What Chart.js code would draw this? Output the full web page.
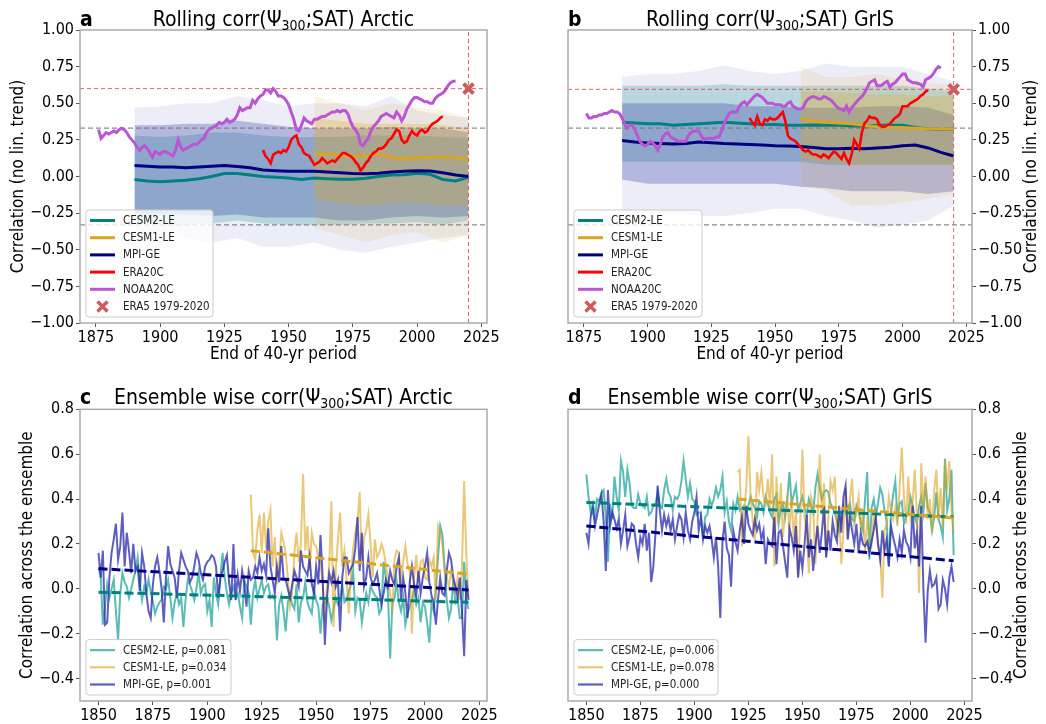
<!DOCTYPE html>
<html>
<head>
<meta charset="utf-8">
<script src="https://cdn.jsdelivr.net/npm/chart.js@4.4.1/dist/chart.umd.min.js"></script>
<style>
  body { margin: 0; background: #fff; }
  #wrap { position: relative; width: 1046px; height: 724px; overflow: hidden; font-family: 'DejaVu Sans Condensed', 'DejaVu Sans', sans-serif; color: #000; }
  canvas { position: absolute; }
  .title { position: absolute; font-size: 21px; line-height: 24px; white-space: nowrap; text-align: center; }
  .title sub { font-size: 14px; vertical-align: -4px; line-height: 0; }
  .letter { position: absolute; font-size: 21px; line-height: 24px; font-weight: bold; }
</style>
</head>
<body>
<div id="wrap">
  <canvas id="chartA" width="520" height="370" style="left:0;top:0"></canvas>
  <canvas id="chartB" width="526" height="370" style="left:520px;top:0"></canvas>
  <canvas id="chartC" width="520" height="354" style="left:0;top:370px"></canvas>
  <canvas id="chartD" width="526" height="354" style="left:520px;top:370px"></canvas>

  <div class="letter" style="left:80px;top:7px">a</div>
  <div class="title" style="left:80px;width:407px;top:7px">Rolling corr(Ψ<sub>300</sub>;SAT) Arctic</div>
  <div class="letter" style="left:568px;top:7px">b</div>
  <div class="title" style="left:568px;width:404px;top:7px">Rolling corr(Ψ<sub>300</sub>;SAT) GrIS</div>
  <div class="letter" style="left:80px;top:385px">c</div>
  <div class="title" style="left:80px;width:407px;top:385px">Ensemble wise corr(Ψ<sub>300</sub>;SAT) Arctic</div>
  <div class="letter" style="left:568px;top:385px">d</div>
  <div class="title" style="left:568px;width:404px;top:385px">Ensemble wise corr(Ψ<sub>300</sub>;SAT) GrIS</div>
</div>

<script>
// ---- axes / ticks
const xTicksRoll = [1875, 1900, 1925, 1950, 1975, 2000, 2025];
const yTicksRoll = [-1, -0.75, -0.5, -0.25, 0, 0.25, 0.5, 0.75, 1];
const xTicksEns = [1850, 1875, 1900, 1925, 1950, 1975, 2000, 2025];
const yTicksEns = [-0.4, -0.2, 0, 0.2, 0.4, 0.6, 0.8];
const xRollMin = 1868.8, xRollMax = 2027.2;
const xEnsMin = 1841.5, xEnsMax = 2028.5;

// ---- reference values
const era5Year = 2020;
const era5Arctic = 0.60;
const era5GrIS = 0.595;
const sigLevel = 0.33;

// ---- ensemble spread (rolling panels), read as envelopes every 10 yr
const bandYears = [1890, 1900, 1910, 1920, 1930, 1940, 1950, 1960, 1970, 1980, 1990, 2000, 2010, 2020];
const bandYearsCesm1 = [1960, 1970, 1980, 1990, 2000, 2010, 2020];

const outerHiA = [0.47, 0.48, 0.50, 0.50, 0.55, 0.52, 0.48, 0.50, 0.50, 0.48, 0.55, 0.45, 0.42, 0.40];
const outerLoA = [-0.38, -0.40, -0.42, -0.45, -0.42, -0.48, -0.48, -0.45, -0.50, -0.52, -0.48, -0.45, -0.42, -0.40];
const mpiCoreHiA = [0.35, 0.35, 0.36, 0.36, 0.38, 0.36, 0.34, 0.33, 0.33, 0.33, 0.34, 0.33, 0.33, 0.30];
const mpiCoreLoA = [-0.25, -0.26, -0.26, -0.27, -0.26, -0.28, -0.28, -0.28, -0.30, -0.30, -0.28, -0.27, -0.28, -0.27];
const cesm2CoreHiA = [0.28, 0.27, 0.28, 0.30, 0.30, 0.28, 0.27, 0.27, 0.27, 0.28, 0.28, 0.28, 0.27, 0.26];
const cesm2CoreLoA = [-0.32, -0.33, -0.33, -0.32, -0.30, -0.32, -0.33, -0.33, -0.33, -0.32, -0.32, -0.31, -0.33, -0.30];
const cesm1OuterHiA = [0.55, 0.50, 0.45, 0.50, 0.47, 0.45, 0.40];
const cesm1OuterLoA = [-0.35, -0.40, -0.45, -0.40, -0.38, -0.45, -0.40];
const cesm1CoreHiA = [0.40, 0.38, 0.36, 0.36, 0.36, 0.35, 0.33];
const cesm1CoreLoA = [-0.15, -0.18, -0.20, -0.18, -0.18, -0.20, -0.20];

const outerHiB = [0.68, 0.70, 0.70, 0.72, 0.76, 0.72, 0.70, 0.72, 0.77, 0.75, 0.75, 0.75, 0.70, 0.65];
const outerLoB = [-0.28, -0.25, -0.25, -0.27, -0.27, -0.25, -0.22, -0.22, -0.27, -0.30, -0.35, -0.33, -0.30, -0.20];
const mpiCoreHiB = [0.50, 0.50, 0.50, 0.50, 0.50, 0.48, 0.48, 0.47, 0.47, 0.47, 0.48, 0.48, 0.47, 0.42];
const mpiCoreLoB = [-0.02, -0.05, -0.05, -0.05, -0.05, -0.05, -0.05, -0.07, -0.08, -0.10, -0.10, -0.10, -0.12, -0.10];
const cesm2CoreHiB = [0.62, 0.62, 0.62, 0.62, 0.63, 0.62, 0.62, 0.62, 0.62, 0.62, 0.62, 0.62, 0.60, 0.58];
const cesm2CoreLoB = [0.10, 0.10, 0.10, 0.10, 0.10, 0.10, 0.10, 0.10, 0.08, 0.08, 0.08, 0.08, 0.08, 0.08];
const cesm1OuterHiB = [0.75, 0.68, 0.68, 0.70, 0.66, 0.64, 0.62];
const cesm1OuterLoB = [-0.05, -0.10, -0.20, -0.20, -0.18, -0.15, -0.12];
const cesm1CoreHiB = [0.58, 0.58, 0.57, 0.56, 0.56, 0.55, 0.55];
const cesm1CoreLoB = [0.12, 0.10, 0.08, 0.08, 0.08, 0.08, 0.08];

// ---- ensemble means (rolling)
const meanYears = [1890, 1895, 1900, 1905, 1910, 1915, 1920, 1925, 1930, 1935, 1940, 1945, 1950, 1955, 1960, 1965, 1970, 1975, 1980, 1985, 1990, 1995, 2000, 2005, 2010, 2015, 2020];
const cesm2MeanA = [-0.02, -0.03, -0.035, -0.03, -0.025, -0.015, 0.0, 0.02, 0.02, 0.01, 0.0, -0.005, -0.01, -0.02, -0.01, -0.015, -0.018, -0.018, -0.012, 0.0, 0.01, 0.012, 0.022, 0.015, -0.02, -0.03, -0.005];
const mpiMeanA = [0.075, 0.07, 0.065, 0.065, 0.06, 0.065, 0.07, 0.075, 0.068, 0.06, 0.045, 0.04, 0.035, 0.035, 0.035, 0.03, 0.025, 0.02, 0.018, 0.022, 0.03, 0.035, 0.04, 0.038, 0.025, 0.01, 0.0];
const cesm2MeanB = [0.37, 0.365, 0.36, 0.36, 0.35, 0.355, 0.36, 0.365, 0.37, 0.365, 0.36, 0.355, 0.355, 0.35, 0.35, 0.352, 0.35, 0.35, 0.345, 0.345, 0.35, 0.35, 0.35, 0.335, 0.325, 0.32, 0.325];
const mpiMeanB = [0.245, 0.235, 0.228, 0.225, 0.222, 0.225, 0.235, 0.23, 0.225, 0.222, 0.218, 0.215, 0.21, 0.208, 0.205, 0.198, 0.19, 0.19, 0.192, 0.19, 0.195, 0.20, 0.21, 0.215, 0.195, 0.165, 0.14];
const cesm1MeanYears = [1960, 1965, 1970, 1975, 1980, 1985, 1990, 1995, 2000, 2005, 2010, 2015, 2020];
const cesm1MeanA = [0.16, 0.15, 0.145, 0.135, 0.14, 0.155, 0.13, 0.12, 0.13, 0.13, 0.135, 0.13, 0.115];
const cesm1MeanB = [0.395, 0.38, 0.37, 0.365, 0.36, 0.35, 0.34, 0.335, 0.335, 0.33, 0.325, 0.325, 0.325];

// ---- reanalyses (rolling, yearly)
const era20cStart = 1940;
const era20cA = [0.18, 0.14, 0.12, 0.09, 0.15, 0.16, 0.17, 0.16, 0.18, 0.17, 0.20, 0.25, 0.27, 0.28, 0.22, 0.20, 0.16, 0.15, 0.14, 0.11,
  0.08, 0.09, 0.10, 0.125, 0.11, 0.09, 0.10, 0.11, 0.10, 0.12, 0.14, 0.16, 0.16, 0.15, 0.14, 0.125, 0.10, 0.08, 0.04, 0.06,
  0.09, 0.11, 0.14, 0.16, 0.17, 0.19, 0.19, 0.20, 0.22, 0.25, 0.26, 0.29, 0.32, 0.31, 0.25, 0.23, 0.24, 0.28, 0.31, 0.29,
  0.28, 0.31, 0.32, 0.30, 0.31, 0.34, 0.36, 0.37, 0.38, 0.40, 0.41];
const era20cB = [0.40, 0.37, 0.35, 0.41, 0.36, 0.35, 0.39, 0.38, 0.40, 0.39, 0.39, 0.40, 0.42, 0.44, 0.38, 0.28, 0.26, 0.25, 0.24, 0.22,
  0.20, 0.18, 0.17, 0.18, 0.16, 0.15, 0.15, 0.14, 0.13, 0.15, 0.14, 0.125, 0.15, 0.17, 0.16, 0.14, 0.12, 0.16, 0.12, 0.09,
  0.15, 0.25, 0.22, 0.19, 0.30, 0.36, 0.38, 0.41, 0.40, 0.40, 0.39, 0.35, 0.34, 0.34, 0.35, 0.36, 0.38, 0.40, 0.41, 0.43,
  0.48, 0.48, 0.48, 0.50, 0.51, 0.52, 0.53, 0.55, 0.56, 0.58, 0.59];
const noaaStart = 1876;
const noaaA = [0.32, 0.26, 0.28, 0.30, 0.29, 0.30, 0.31, 0.30, 0.32, 0.33, 0.32, 0.30, 0.27, 0.25, 0.23, 0.20, 0.18, 0.20, 0.21, 0.19,
  0.16, 0.13, 0.17, 0.16, 0.15, 0.17, 0.17, 0.16, 0.15, 0.14, 0.18, 0.25, 0.20, 0.18, 0.19, 0.20, 0.21, 0.22, 0.22, 0.23,
  0.25, 0.26, 0.30, 0.32, 0.33, 0.34, 0.35, 0.37, 0.36, 0.37, 0.39, 0.37, 0.38, 0.39, 0.42, 0.47, 0.45, 0.46, 0.47, 0.47,
  0.52, 0.50, 0.53, 0.55, 0.56, 0.59, 0.59, 0.57, 0.60, 0.58, 0.55, 0.55, 0.54, 0.52, 0.49, 0.44, 0.39, 0.32, 0.31, 0.35,
  0.40, 0.38, 0.37, 0.36, 0.39, 0.39, 0.40, 0.41, 0.41, 0.42, 0.43, 0.44, 0.44, 0.45, 0.44, 0.45, 0.45, 0.43, 0.38, 0.34,
  0.32, 0.29, 0.22, 0.21, 0.24, 0.26, 0.31, 0.34, 0.36, 0.38, 0.41, 0.42, 0.43, 0.42, 0.41, 0.40, 0.44, 0.42, 0.38, 0.41,
  0.46, 0.49, 0.52, 0.54, 0.54, 0.53, 0.52, 0.51, 0.51, 0.50, 0.50, 0.53, 0.55, 0.56, 0.57, 0.59, 0.62, 0.64, 0.65, 0.65];
const noaaB = [0.43, 0.40, 0.40, 0.41, 0.41, 0.42, 0.42, 0.43, 0.43, 0.44, 0.45, 0.44, 0.44, 0.43, 0.40, 0.36, 0.33, 0.35, 0.35, 0.32,
  0.28, 0.24, 0.22, 0.21, 0.22, 0.24, 0.23, 0.21, 0.18, 0.22, 0.27, 0.29, 0.30, 0.27, 0.26, 0.25, 0.24, 0.24, 0.24, 0.24,
  0.28, 0.30, 0.31, 0.31, 0.31, 0.28, 0.25, 0.26, 0.26, 0.26, 0.26, 0.27, 0.27, 0.31, 0.36, 0.40, 0.43, 0.44, 0.44, 0.44,
  0.48, 0.50, 0.51, 0.49, 0.51, 0.53, 0.55, 0.56, 0.55, 0.54, 0.52, 0.50, 0.50, 0.50, 0.49, 0.49, 0.49, 0.48, 0.48, 0.50,
  0.51, 0.48, 0.47, 0.46, 0.46, 0.47, 0.51, 0.53, 0.54, 0.545, 0.54, 0.53, 0.53, 0.545, 0.54, 0.53, 0.52, 0.50, 0.48, 0.465,
  0.46, 0.45, 0.48, 0.44, 0.47, 0.49, 0.51, 0.53, 0.545, 0.57, 0.60, 0.64, 0.65, 0.66, 0.62, 0.62, 0.625, 0.64, 0.65, 0.61,
  0.63, 0.64, 0.66, 0.68, 0.70, 0.70, 0.66, 0.65, 0.64, 0.64, 0.635, 0.63, 0.61, 0.66, 0.67, 0.68, 0.70, 0.73, 0.75, 0.74];

// ---- ensemble-wise correlation (yearly)
const ensStart = 1850;
const cesm1Start = 1920;
const cesm2EnsArctic = [0.09, 0.06, -0.16, -0.08, 0.02, -0.04, 0.00, 0.04, -0.10, -0.23,
  -0.02, 0.07, 0.03, 0.01, -0.04, 0.00, 0.04, 0.08, 0.14, 0.02,
  -0.05, 0.01, -0.02, 0.04, -0.01, -0.06, -0.11, -0.08, -0.06, -0.05,
  0.01, 0.00, 0.04, -0.04, -0.13, -0.06, -0.02, -0.07, -0.04, -0.17,
  -0.05, 0.04, 0.02, -0.01, -0.05, 0.00, 0.07, -0.02, 0.01, 0.02,
  -0.10, -0.05, -0.17, 0.05, -0.02, -0.07, 0.05, 0.16, 0.05, -0.02,
  -0.07, -0.02, 0.01, -0.04, -0.02, -0.08, -0.13, 0.04, 0.01, -0.02,
  -0.16, -0.02, 0.04, -0.04, 0.00, 0.04, -0.02, 0.01, 0.02, -0.04,
  -0.03, -0.05, -0.23, -0.07, -0.03, -0.10, -0.19, -0.06, -0.03, -0.07,
  -0.09, 0.02, -0.15, -0.06, -0.04, 0.03, -0.06, -0.09, -0.11, 0.00,
  -0.05, -0.08, -0.20, -0.07, -0.06, -0.04, -0.08, -0.14, -0.09, -0.04,
  -0.07, -0.05, 0.02, -0.06, -0.05, -0.01, 0.02, 0.08, -0.10, -0.04,
  -0.05, -0.15, -0.08, -0.02, -0.06, 0.01, -0.01, -0.03, -0.04, -0.11,
  -0.09, 0.12, 0.05, -0.02, -0.31, -0.07, -0.04, 0.03, -0.06, -0.10,
  -0.04, -0.16, -0.11, -0.08, -0.05, 0.00, -0.07, -0.04, -0.15, -0.06,
  -0.08, -0.15, -0.24, -0.06, -0.10, 0.00, 0.14, 0.28, 0.24, 0.10,
  -0.05, -0.13, -0.09, 0.04, -0.06, -0.04, -0.13, -0.13, 0.12, -0.05, -0.09];
const cesm1EnsArctic = [0.42, 0.16, 0.13, 0.26, 0.33, 0.16, 0.34, 0.18, 0.30, 0.35,
  0.10, 0.23, 0.02, 0.11, 0.25, 0.21, 0.16, 0.05, -0.08, -0.02,
  0.16, 0.25, 0.12, 0.20, 0.51, 0.17, 0.28, 0.08, 0.25, 0.20,
  0.19, 0.14, 0.11, 0.02, -0.14, 0.01, 0.10, 0.39, -0.17, 0.08,
  0.22, 0.34, 0.10, 0.17, 0.04, -0.11, 0.07, 0.18, 0.25, 0.30,
  0.43, 0.11, 0.23, 0.26, 0.33, 0.20, 0.05, 0.22, 0.14, 0.16,
  0.20, 0.17, 0.11, 0.05, -0.02, -0.10, 0.13, 0.17, 0.16, 0.04,
  0.12, 0.19, 0.11, 0.08, -0.20, 0.05, 0.15, 0.03, 0.12, 0.13,
  0.05, 0.04, 0.13, 0.10, 0.14, -0.05, 0.28, 0.25, 0.20, 0.08,
  0.05, 0.01, 0.08, 0.03, -0.01, 0.05, -0.05, 0.10, 0.48, 0.15, -0.04];
const mpiEnsArctic = [0.16, 0.05, 0.17, -0.16, -0.15, 0.05, 0.16, 0.22, 0.29, 0.13,
  0.19, 0.34, 0.10, 0.25, 0.17, 0.07, 0.20, 0.08, 0.10, -0.01,
  0.16, 0.10, -0.02, -0.10, -0.13, 0.02, 0.10, 0.14, 0.08, 0.00,
  -0.15, 0.05, 0.19, 0.11, 0.08, 0.05, -0.04, 0.08, 0.16, 0.13,
  0.10, 0.08, 0.03, 0.05, 0.10, 0.16, 0.13, 0.07, 0.04, 0.10,
  0.12, 0.13, 0.15, 0.14, 0.10, -0.04, 0.05, 0.08, 0.12, 0.15,
  0.03, -0.05, 0.20, -0.05, 0.06, -0.01, 0.08, 0.02, -0.08, 0.08,
  0.04, 0.05, 0.10, 0.07, 0.14, 0.08, 0.11, 0.06, 0.27, 0.10,
  0.04, -0.02, 0.10, 0.03, 0.19, 0.05, 0.04, 0.00, -0.04, 0.02,
  0.08, 0.05, 0.01, 0.17, 0.10, 0.08, 0.06, 0.14, 0.02, -0.02,
  0.10, 0.02, 0.24, 0.05, -0.25, -0.04, 0.07, 0.03, 0.08, 0.01,
  0.04, -0.19, 0.05, 0.14, 0.14, 0.07, 0.09, 0.11, 0.18, 0.32,
  0.08, 0.25, 0.01, 0.05, 0.14, 0.05, 0.02, 0.04, 0.07, 0.00,
  -0.07, -0.02, 0.04, 0.01, 0.08, 0.04, 0.02, 0.10, 0.14, -0.05,
  0.05, -0.02, -0.13, 0.03, 0.10, 0.02, -0.03, 0.08, -0.02, 0.05,
  0.10, 0.16, 0.03, -0.03, -0.06, -0.16, -0.05, 0.05, -0.02, -0.03,
  0.08, 0.16, 0.13, 0.05, 0.01, -0.04, 0.05, -0.10, -0.30, 0.04, -0.05];

const cesm2EnsGrIS = [0.51, 0.41, 0.34, 0.38, 0.32, 0.40, 0.39, 0.43, 0.44, 0.32,
  0.12, 0.38, 0.31, 0.50, 0.41, 0.35, 0.57, 0.52, 0.41, 0.53,
  0.47, 0.37, 0.36, 0.36, 0.42, 0.38, 0.37, 0.36, 0.41, 0.33,
  0.34, 0.37, 0.38, 0.43, 0.37, 0.36, 0.44, 0.49, 0.43, 0.41,
  0.35, 0.41, 0.40, 0.42, 0.48, 0.57, 0.49, 0.41, 0.47, 0.40,
  0.39, 0.33, 0.34, 0.34, 0.23, 0.32, 0.33, 0.40, 0.37, 0.40,
  0.45, 0.41, 0.44, 0.50, 0.34, 0.39, 0.30, 0.26, 0.38, 0.35,
  0.41, 0.35, 0.36, 0.37, 0.34, 0.37, 0.41, 0.38, 0.36, 0.32,
  0.39, 0.38, 0.34, 0.41, 0.38, 0.34, 0.32, 0.40, 0.42, 0.29,
  0.36, 0.38, 0.32, 0.40, 0.52, 0.38, 0.42, 0.46, 0.35, 0.38,
  0.41, 0.36, 0.33, 0.40, 0.37, 0.34, 0.45, 0.51, 0.45, 0.40,
  0.43, 0.44, 0.43, 0.38, 0.36, 0.34, 0.30, 0.26, 0.31, 0.37,
  0.34, 0.36, 0.38, 0.31, 0.30, 0.37, 0.34, 0.30, 0.26, 0.40,
  0.52, 0.13, 0.36, 0.40, 0.33, 0.38, 0.45, 0.42, 0.35, 0.30,
  0.10, 0.34, 0.42, 0.48, 0.32, 0.38, 0.39, 0.29, 0.32, 0.34,
  0.41, 0.37, 0.32, 0.29, 0.37, 0.41, 0.34, 0.47, 0.36, 0.34,
  0.26, 0.32, 0.43, 0.31, 0.28, 0.23, 0.58, 0.35, 0.40, 0.53, 0.15];
const cesm1EnsGrIS = [0.52, 0.53, 0.19, 0.35, 0.45, 0.68, 0.42, 0.30, 0.21, 0.52,
  0.44, 0.52, 0.41, 0.38, 0.49, 0.36, 0.60, 0.10, 0.50, 0.29,
  0.47, 0.23, 0.34, 0.41, 0.26, 0.41, 0.22, 0.35, 0.06, 0.30,
  0.62, 0.32, 0.25, 0.07, 0.41, 0.37, 0.11, 0.30, 0.60, 0.33,
  0.47, 0.14, 0.32, 0.48, 0.44, 0.50, 0.23, 0.34, 0.11, 0.26,
  0.45, 0.22, 0.40, 0.49, 0.29, 0.34, 0.41, 0.26, 0.35, 0.17,
  0.31, 0.25, 0.20, 0.33, 0.29, 0.20, 0.15, -0.04, 0.26, 0.29,
  0.41, 0.35, 0.31, 0.36, 0.28, 0.45, 0.63, 0.41, 0.29, 0.50,
  0.32, 0.38, 0.53, 0.33, -0.02, 0.56, 0.36, 0.50, 0.31, 0.40,
  0.25, 0.44, 0.53, 0.31, 0.45, 0.27, 0.57, 0.44, 0.57, 0.35, 0.25];
const mpiEnsGrIS = [0.25, 0.20, 0.32, 0.36, 0.28, 0.33, 0.38, 0.42, 0.30, 0.08,
  0.44, 0.28, 0.34, 0.31, 0.27, 0.31, 0.20, 0.26, 0.33, 0.19,
  0.23, 0.29, 0.28, 0.20, 0.14, 0.23, 0.20, 0.29, 0.17, 0.25,
  0.03, 0.10, 0.25, 0.46, 0.35, 0.26, 0.33, 0.28, 0.32, 0.26,
  0.31, 0.22, 0.28, 0.33, 0.31, 0.23, 0.34, 0.26, 0.22, 0.30,
  0.34, 0.41, 0.26, 0.32, 0.22, 0.28, 0.25, 0.28, 0.22, 0.14,
  0.23, 0.10, -0.13, 0.21, 0.30, 0.18, 0.15, 0.01, 0.26, 0.21,
  0.17, 0.26, 0.32, 0.20, 0.37, 0.29, 0.26, 0.24, 0.31, 0.26,
  0.29, 0.22, 0.26, 0.11, 0.22, 0.20, 0.19, 0.32, 0.11, 0.25,
  0.26, 0.19, 0.12, 0.05, 0.27, 0.23, 0.17, 0.28, 0.05, 0.17,
  0.09, 0.20, 0.33, 0.14, 0.22, 0.08, 0.19, 0.28, 0.16, 0.25,
  0.37, 0.14, 0.26, 0.17, 0.30, 0.24, 0.21, 0.37, 0.25, 0.41,
  0.46, 0.22, 0.32, 0.26, 0.20, 0.29, 0.16, 0.25, 0.20, 0.19,
  0.21, 0.16, 0.21, 0.26, 0.32, 0.20, 0.13, 0.26, 0.17, 0.22,
  0.10, 0.28, 0.23, 0.19, 0.14, 0.22, 0.16, 0.26, 0.21, 0.19,
  0.14, 0.37, 0.18, 0.25, 0.10, 0.37, 0.00, -0.24, -0.01, 0.08,
  0.01, 0.02, 0.05, -0.09, -0.07, 0.04, 0.00, -0.07, 0.05, 0.10, 0.03];

// linear trends: [value at first year, value at 2020]
const trendYears = [1850, 2020];
const trendYearsCesm1 = [1920, 2020];
const cesm2TrendArctic = [-0.015, -0.06];
const cesm1TrendArctic = [0.17, 0.065];
const mpiTrendArctic = [0.09, -0.005];
const cesm2TrendGrIS = [0.385, 0.32];
const cesm1TrendGrIS = [0.40, 0.315];
const mpiTrendGrIS = [0.28, 0.125];

// ---- styling
const FONT = "'DejaVu Sans Condensed', 'DejaVu Sans', sans-serif";
const TEAL = '#008080', GOLD = '#DAA520', NAVY = '#000080', RED = '#FF0000', ORCHID = '#BA55D3', X_RED = '#CD5C5C';
const TEAL_L = 'rgba(20,160,150,0.7)', GOLD_L = 'rgba(218,165,32,0.6)', MPI_L = 'rgba(30,30,170,0.72)';

const pts = (xs, ys) => xs.map((x, i) => ({ x, y: ys[i] }));
const yearly = (start, ys) => ys.map((y, i) => ({ x: start + i, y }));
const fmt = d => v => (v < 0 ? '\u2212' : '') + Math.abs(v).toFixed(d);

function line(data, color, width, order, extra) {
  return Object.assign({ data, borderColor: color, borderWidth: width, pointRadius: 0, fill: false, tension: 0, order }, extra || {});
}

function band(xs, hi, lo, color, order) {
  return [
    { data: pts(xs, hi), borderWidth: 0, borderColor: 'rgba(0,0,0,0)', backgroundColor: color, pointRadius: 0, fill: '+1', order },
    { data: pts(xs, lo), borderWidth: 0, borderColor: 'rgba(0,0,0,0)', pointRadius: 0, fill: false, order }
  ];
}

const framePlugin = {
  id: 'frame',
  afterDatasetsDraw(chart) {
    const { ctx, chartArea: a } = chart;
    ctx.save();
    ctx.strokeStyle = '#aaaaaa';
    ctx.lineWidth = 1.5;
    ctx.strokeRect(a.left, a.top, a.right - a.left, a.bottom - a.top);
    ctx.restore();
  }
};

// y title on the right side, reading bottom to top like the left one
const sideTitlePlugin = {
  id: 'sideTitle',
  afterDraw(chart, args, opts) {
    if (!opts.text) return;
    const { ctx, chartArea: a } = chart;
    ctx.save();
    ctx.translate(opts.x, (a.top + a.bottom) / 2);
    ctx.rotate(-Math.PI / 2);
    ctx.font = '17px ' + FONT;
    ctx.fillStyle = '#000';
    ctx.textAlign = 'center';
    ctx.textBaseline = 'middle';
    ctx.fillText(opts.text, 0, 0);
    ctx.restore();
  }
};

const boxLegendPlugin = {
  id: 'boxLegend',
  afterDraw(chart, args, opts) {
    const items = opts.items;
    if (!items) return;
    const { ctx, chartArea: a } = chart;
    const rowH = 17.2;
    const w = opts.width, h = 21 + (items.length - 1) * rowH;
    const x = a.left + 6, y = a.bottom - 6 - h;
    ctx.save();
    ctx.beginPath();
    ctx.roundRect(x, y, w, h, 3);
    ctx.fillStyle = 'rgba(255,255,255,0.8)';
    ctx.fill();
    ctx.strokeStyle = '#cccccc';
    ctx.lineWidth = 1;
    ctx.stroke();
    ctx.font = '11.5px ' + FONT;
    ctx.textBaseline = 'middle';
    items.forEach((it, i) => {
      const cy = y + 10.5 + i * rowH;
      ctx.strokeStyle = it.color;
      if (it.marker) {
        const cx = x + 16.5;
        ctx.lineWidth = 3.5;
        ctx.beginPath();
        ctx.moveTo(cx - 5, cy - 5); ctx.lineTo(cx + 5, cy + 5);
        ctx.moveTo(cx - 5, cy + 5); ctx.lineTo(cx + 5, cy - 5);
        ctx.stroke();
      } else {
        ctx.lineWidth = it.width;
        ctx.beginPath();
        ctx.moveTo(x + 4, cy); ctx.lineTo(x + 29, cy);
        ctx.stroke();
      }
      ctx.fillStyle = '#222';
      ctx.fillText(it.label, x + 37, cy + 0.5);
    });
    ctx.restore();
  }
};

function axisX(min, max, ticks, height, title) {
  return {
    type: 'linear', min, max,
    afterBuildTicks: s => { s.ticks = ticks.map(value => ({ value })); },
    afterFit: s => { s.height = height; },
    ticks: { autoSkip: false, maxRotation: 0, padding: 1, color: '#000', font: { family: FONT, size: 16 }, callback: v => String(v) },
    grid: { drawOnChartArea: false, drawTicks: true, tickLength: 4, color: '#555' },
    border: { display: false },
    title: { display: !!title, text: title || '', color: '#000', font: { family: FONT, size: 17 }, padding: { top: 0, bottom: 5 } }
  };
}

function axisY(min, max, ticks, width, dec, position, title, titlePad) {
  return {
    type: 'linear', min, max, position,
    afterBuildTicks: s => { s.ticks = ticks.map(value => ({ value })); },
    afterFit: s => { s.width = width; },
    ticks: { autoSkip: false, padding: 2, color: '#000', font: { family: FONT, size: 16 }, callback: fmt(dec) },
    grid: { drawOnChartArea: false, drawTicks: true, tickLength: 4, color: '#555' },
    border: { display: false },
    title: { display: !!title, text: title || '', color: '#000', font: { family: FONT, size: 17 }, padding: { top: titlePad, bottom: 0 } }
  };
}

function makeChart(id, datasets, scales, padding, legend, sideTitle) {
  return new Chart(document.getElementById(id), {
    type: 'line',
    data: { datasets },
    options: {
      responsive: false,
      animation: false,
      devicePixelRatio: 1,
      layout: { padding },
      plugins: { legend: { display: false }, tooltip: { enabled: false }, boxLegend: legend, sideTitle: sideTitle || {} },
      scales
    },
    plugins: [framePlugin, boxLegendPlugin, sideTitlePlugin]
  });
}

const rollLegend = [
  { label: 'CESM2-LE', color: TEAL, width: 3 },
  { label: 'CESM1-LE', color: GOLD, width: 3 },
  { label: 'MPI-GE', color: NAVY, width: 3 },
  { label: 'ERA20C', color: RED, width: 3 },
  { label: 'NOAA20C', color: ORCHID, width: 3 },
  { label: 'ERA5 1979-2020', color: X_RED, marker: true }
];

function rollingSets(bands, cesm2Mean, cesm1Mean, mpiMean, era, noaa, era5) {
  return [
    ...band(bandYears, bands.outerHi, bands.outerLo, 'rgba(110,110,200,0.12)', 30),
    ...band(bandYears, bands.cesm2Hi, bands.cesm2Lo, 'rgba(0,128,128,0.22)', 29),
    ...band(bandYears, bands.mpiHi, bands.mpiLo, 'rgba(20,30,150,0.26)', 28),
    ...band(bandYearsCesm1, bands.c1OuterHi, bands.c1OuterLo, 'rgba(218,165,32,0.12)', 27),
    ...band(bandYearsCesm1, bands.c1Hi, bands.c1Lo, 'rgba(218,165,32,0.28)', 26),
    line(pts([xRollMin, xRollMax], [sigLevel, sigLevel]), 'rgba(120,120,120,0.85)', 1.2, 20, { borderDash: [5, 3] }),
    line(pts([xRollMin, xRollMax], [-sigLevel, -sigLevel]), 'rgba(120,120,120,0.85)', 1.2, 20, { borderDash: [5, 3] }),
    line(pts(meanYears, cesm2Mean), TEAL, 3, 8),
    line(pts(cesm1MeanYears, cesm1Mean), GOLD, 3, 7),
    line(pts(meanYears, mpiMean), NAVY, 3, 6),
    line(yearly(era20cStart, era), RED, 2.6, 5),
    line(yearly(noaaStart, noaa), ORCHID, 3, 4),
    line(pts([xRollMin, xRollMax], [era5, era5]), 'rgba(225,60,60,0.8)', 1, 3, { borderDash: [4, 3] }),
    line(pts([era5Year, era5Year], [-1, 1]), 'rgba(225,60,60,0.8)', 1, 3, { borderDash: [4, 3] }),
    { data: [{ x: era5Year, y: era5 }], showLine: false, pointStyle: 'crossRot', pointRadius: 7, pointBorderWidth: 4,
      borderWidth: 4, borderColor: X_RED, pointBorderColor: X_RED, backgroundColor: X_RED, order: 1 }
  ];
}

function ensembleSets(cesm2, cesm1, mpi, t2, t1, tm) {
  return [
    line(yearly(ensStart, cesm2), TEAL_L, 2, 9),
    line(yearly(cesm1Start, cesm1), GOLD_L, 2, 8),
    line(yearly(ensStart, mpi), MPI_L, 2, 7),
    line(pts(trendYears, t2), TEAL, 3, 3, { borderDash: [9, 4] }),
    line(pts(trendYearsCesm1, t1), GOLD, 3, 2, { borderDash: [9, 4] }),
    line(pts(trendYears, tm), NAVY, 3, 1, { borderDash: [9, 4] })
  ];
}

makeChart('chartA',
  rollingSets({ outerHi: outerHiA, outerLo: outerLoA, cesm2Hi: cesm2CoreHiA, cesm2Lo: cesm2CoreLoA, mpiHi: mpiCoreHiA, mpiLo: mpiCoreLoA,
    c1OuterHi: cesm1OuterHiA, c1OuterLo: cesm1OuterLoA, c1Hi: cesm1CoreHiA, c1Lo: cesm1CoreLoA },
    cesm2MeanA, cesm1MeanA, mpiMeanA, era20cA, noaaA, era5Arctic),
  { x: axisX(xRollMin, xRollMax, xTicksRoll, 47, 'End of 40-yr period'),
    y: axisY(-1, 1, yTicksRoll, 80, 2, 'left', 'Correlation (no lin. trend)', 8) },
  { left: 0, right: 33, top: 30, bottom: 0 },
  { items: rollLegend, width: 127 });

makeChart('chartB',
  rollingSets({ outerHi: outerHiB, outerLo: outerLoB, cesm2Hi: cesm2CoreHiB, cesm2Lo: cesm2CoreLoB, mpiHi: mpiCoreHiB, mpiLo: mpiCoreLoB,
    c1OuterHi: cesm1OuterHiB, c1OuterLo: cesm1OuterLoB, c1Hi: cesm1CoreHiB, c1Lo: cesm1CoreLoB },
    cesm2MeanB, cesm1MeanB, mpiMeanB, era20cB, noaaB, era5GrIS),
  { x: axisX(xRollMin, xRollMax, xTicksRoll, 47, 'End of 40-yr period'),
    y: axisY(-1, 1, yTicksRoll, 74, 2, 'right', '', 0) },
  { left: 48, right: 0, top: 30, bottom: 0 },
  { items: rollLegend, width: 128 },
  { text: 'Correlation (no lin. trend)', x: 512 });

makeChart('chartC',
  ensembleSets(cesm2EnsArctic, cesm1EnsArctic, mpiEnsArctic, cesm2TrendArctic, cesm1TrendArctic, mpiTrendArctic),
  { x: axisX(xEnsMin, xEnsMax, xTicksEns, 23, ''),
    y: axisY(-0.5, 0.8, yTicksEns, 80, 1, 'left', 'Correlation across the ensemble', 17) },
  { left: 0, right: 33, top: 39.3, bottom: 0 },
  { items: [
    { label: 'CESM2-LE, p=0.081', color: TEAL_L, width: 2.2 },
    { label: 'CESM1-LE, p=0.034', color: GOLD_L, width: 2.2 },
    { label: 'MPI-GE, p=0.001', color: MPI_L, width: 2.2 }
  ], width: 145 });

makeChart('chartD',
  ensembleSets(cesm2EnsGrIS, cesm1EnsGrIS, mpiEnsGrIS, cesm2TrendGrIS, cesm1TrendGrIS, mpiTrendGrIS),
  { x: axisX(xEnsMin, xEnsMax, xTicksEns, 23, ''),
    y: axisY(-0.5, 0.8, yTicksEns, 74, 1, 'right', '', 0) },
  { left: 48, right: 0, top: 39.3, bottom: 0 },
  { items: [
    { label: 'CESM2-LE, p=0.006', color: TEAL_L, width: 2.2 },
    { label: 'CESM1-LE, p=0.078', color: GOLD_L, width: 2.2 },
    { label: 'MPI-GE, p=0.000', color: MPI_L, width: 2.2 }
  ], width: 144 },
  { text: 'Correlation across the ensemble', x: 502 });
</script>
</body>
</html>
